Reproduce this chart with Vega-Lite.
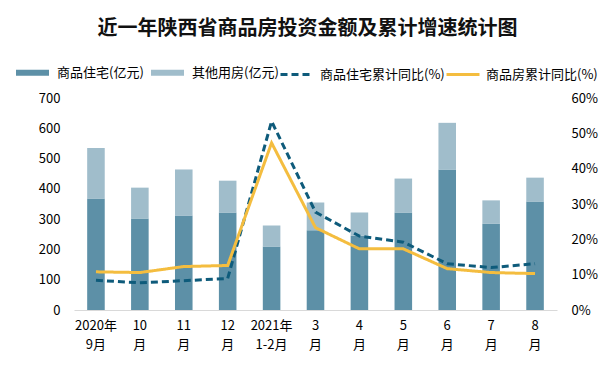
{
  "$schema": "https://vega.github.io/schema/vega-lite/v6.json",
  "autosize": "none",
  "width": 483,
  "height": 212,
  "padding": {"left": 74, "top": 98, "right": 57, "bottom": 62},
  "background": "white",
  "title": {
    "text": "近一年陕西省商品房投资金额及累计增速统计图",
    "font": "Noto Sans CJK SC",
    "fontSize": 20,
    "fontWeight": "bold",
    "color": "#111111",
    "anchor": "middle",
    "frame": "group",
    "offset": 14,
    "dx": -8
  },
  "config": {
    "font": "Noto Sans CJK SC",
    "view": {"stroke": null},
    "axis": {"grid": false, "ticks": false, "labelColor": "#000000", "labelFont": "Noto Sans CJK SC", "labelFontSize": 13, "title": null}
  },
  "data": {
    "values": [
      {"m": "2020年|9月", "商品住宅(亿元)": 368, "其他用房(亿元)": 167, "商品住宅累计同比(%)": 8.4, "商品房累计同比(%)": 10.8},
      {"m": "10|月", "商品住宅(亿元)": 302, "其他用房(亿元)": 102, "商品住宅累计同比(%)": 7.7, "商品房累计同比(%)": 10.6},
      {"m": "11|月", "商品住宅(亿元)": 312, "其他用房(亿元)": 152, "商品住宅累计同比(%)": 8.3, "商品房累计同比(%)": 12.3},
      {"m": "12|月", "商品住宅(亿元)": 322, "其他用房(亿元)": 105, "商品住宅累计同比(%)": 8.9, "商品房累计同比(%)": 12.6},
      {"m": "2021年|1-2月", "商品住宅(亿元)": 210, "其他用房(亿元)": 69, "商品住宅累计同比(%)": 53.4, "商品房累计同比(%)": 47.3},
      {"m": "3|月", "商品住宅(亿元)": 263, "其他用房(亿元)": 92, "商品住宅累计同比(%)": 27.7, "商品房累计同比(%)": 23.3},
      {"m": "4|月", "商品住宅(亿元)": 245, "其他用房(亿元)": 77, "商品住宅累计同比(%)": 20.9, "商品房累计同比(%)": 17.3},
      {"m": "5|月", "商品住宅(亿元)": 322, "其他用房(亿元)": 112, "商品住宅累计同比(%)": 19.2, "商品房累计同比(%)": 17.3},
      {"m": "6|月", "商品住宅(亿元)": 464, "其他用房(亿元)": 154, "商品住宅累计同比(%)": 13.1, "商品房累计同比(%)": 11.7},
      {"m": "7|月", "商品住宅(亿元)": 286, "其他用房(亿元)": 76, "商品住宅累计同比(%)": 12.0, "商品房累计同比(%)": 10.6},
      {"m": "8|月", "商品住宅(亿元)": 358, "其他用房(亿元)": 79, "商品住宅累计同比(%)": 13.1, "商品房累计同比(%)": 10.3}
    ]
  },
  "encoding": {
    "x": {
      "field": "m",
      "type": "nominal",
      "sort": null,
      "scale": {"paddingInner": 0.6, "paddingOuter": 0.3},
      "axis": {
        "labelAngle": 0,
        "labelExpr": "split(datum.label, '|')",
        "labelLineHeight": 19,
        "labelPadding": 9,
        "domainColor": "#d9d9d9",
        "domainWidth": 1
      }
    }
  },
  "layer": [
    {
      "transform": [{"fold": ["商品住宅(亿元)", "其他用房(亿元)"], "as": ["series", "amount"]}],
      "mark": {"type": "bar"},
      "encoding": {
        "y": {
          "field": "amount",
          "type": "quantitative",
          "stack": "zero",
          "scale": {"domain": [0, 700], "nice": false},
          "axis": {"values": [0, 100, 200, 300, 400, 500, 600, 700], "domain": false, "labelPadding": 14}
        },
        "order": {"field": "series", "sort": "descending"},
        "color": {
          "field": "series",
          "type": "nominal",
          "scale": {
            "domain": ["商品住宅(亿元)", "其他用房(亿元)", "商品住宅累计同比(%)", "商品房累计同比(%)"],
            "range": ["#5d90a7", "#a0bdcb", "#0e5b7b", "#f4bd3f"]
          },
          "legend": {
            "title": null,
            "orient": "none",
            "legendX": -61,
            "legendY": -45,
            "direction": "horizontal",
            "symbolType": "stroke",
            "symbolSize": 1089,
            "labelFontSize": 13,
            "labelColor": "#000000",
            "labelOffset": 5,
            "columnPadding": -5
          }
        }
      }
    },
    {
      "transform": [{"fold": ["商品住宅累计同比(%)", "商品房累计同比(%)"], "as": ["series", "pct"]}],
      "mark": {"type": "line", "strokeWidth": 3},
      "encoding": {
        "y": {
          "field": "pct",
          "type": "quantitative",
          "scale": {"domain": [0, 60], "nice": false},
          "axis": {"orient": "right", "values": [0, 10, 20, 30, 40, 50, 60], "labelExpr": "datum.value + '%'", "domain": false, "labelPadding": 14}
        },
        "color": {"field": "series", "type": "nominal"},
        "strokeDash": {
          "field": "series",
          "type": "nominal",
          "scale": {
            "domain": ["商品住宅(亿元)", "其他用房(亿元)", "商品住宅累计同比(%)", "商品房累计同比(%)"],
            "range": [[1, 0], [1, 0], [7, 4], [1, 0]]
          }
        },
        "strokeWidth": {
          "field": "series",
          "type": "nominal",
          "scale": {
            "type": "ordinal",
            "domain": ["商品住宅(亿元)", "其他用房(亿元)", "商品住宅累计同比(%)", "商品房累计同比(%)"],
            "range": [6, 6, 3, 3]
          }
        }
      }
    }
  ],
  "resolve": {"scale": {"y": "independent"}}
}
